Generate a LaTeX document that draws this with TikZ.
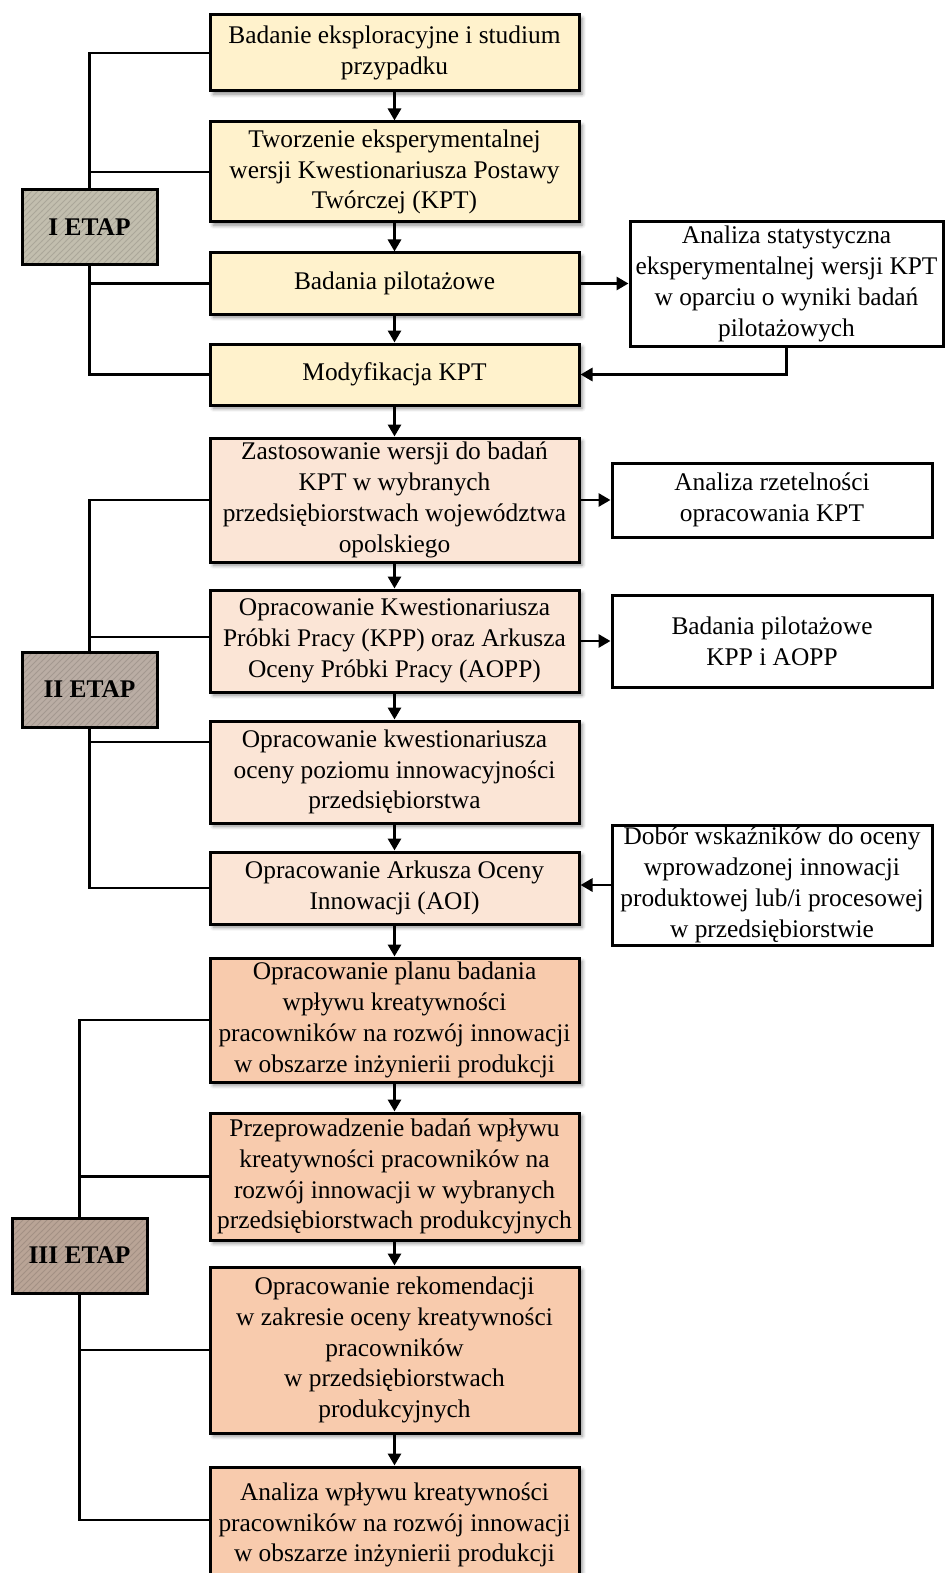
\documentclass[tikz,border=0pt]{standalone}
\usepackage{fontspec}
\setmainfont{Liberation Serif}
\usetikzlibrary{arrows.meta,patterns,shadows.blur}
\definecolor{stI}{HTML}{FFF2CC}
\definecolor{stII}{HTML}{FBE5D6}
\definecolor{stIII}{HTML}{F8CBAD}
\definecolor{etI}{HTML}{C2BEAE}
\definecolor{etII}{HTML}{BAADA4}
\definecolor{etIII}{HTML}{B9A496}
\begin{document}
\begin{tikzpicture}[x=0.5pt,y=-0.5pt,
  every node/.style={font=\fontsize{12.7}{15.4}\selectfont},
  mainbox/.style={draw=black, line width=1.5pt, rectangle, inner sep=0pt, align=center,
    minimum width=184.5pt, blur shadow={shadow xshift=1.6pt, shadow yshift=-1.6pt, shadow blur steps=4, shadow opacity=45}},
  sidebox/.style={draw=black, line width=1.5pt, rectangle, inner sep=0pt, align=center, fill=white},
  etapbox/.style={draw=black, line width=1.5pt, rectangle, inner sep=0pt, align=center,
    minimum width=67.5pt, minimum height=37.5pt, font=\fontsize{12.7}{15.4}\selectfont\bfseries,
    pattern=north east lines},
  conn/.style={line width=1.45pt},
  arr/.style={line width=1.45pt, -{Triangle[length=6pt,width=6.5pt]}}
]
\useasboundingbox (0,0) rectangle (944,1573);
% main column
\node[mainbox, fill=stI, minimum height=38pt] (B1) at (394.5,53) {Badanie eksploracyjne i studium\\przypadku};
\node[mainbox, fill=stI, minimum height=50pt] (B2) at (394.5,172) {Tworzenie eksperymentalnej\\wersji Kwestionariusza Postawy\\Twórczej (KPT)};
\node[mainbox, fill=stI, minimum height=30.5pt] (B3) at (394.5,283.5) {Badania pilotażowe};
\node[mainbox, fill=stI, minimum height=30.5pt] (B4) at (394.5,374.5) {Modyfikacja KPT};
\node[mainbox, fill=stII, minimum height=62pt] (B5) at (394.5,500) {Zastosowanie wersji do badań\\KPT w wybranych\\przedsiębiorstwach województwa\\opolskiego};
\node[mainbox, fill=stII, minimum height=51pt] (B6) at (394.5,641) {Opracowanie Kwestionariusza\\Próbki Pracy (KPP) oraz Arkusza\\Oceny Próbki Pracy (AOPP)};
\node[mainbox, fill=stII, minimum height=51pt] (B7) at (394.5,772) {Opracowanie kwestionariusza\\oceny poziomu innowacyjności\\przedsiębiorstwa};
\node[mainbox, fill=stII, minimum height=36pt] (B8) at (394.5,888) {Opracowanie Arkusza Oceny\\Innowacji (AOI)};
\node[mainbox, fill=stIII, minimum height=62pt] (B9) at (394.5,1020) {Opracowanie planu badania\\wpływu kreatywności\\pracowników na rozwój innowacji\\w obszarze inżynierii produkcji};
\node[mainbox, fill=stIII, minimum height=63.5pt] (B10) at (394.5,1176.5) {Przeprowadzenie badań wpływu\\kreatywności pracowników na\\rozwój innowacji w wybranych\\przedsiębiorstwach produkcyjnych};
\node[mainbox, fill=stIII, minimum height=83pt] (B11) at (394.5,1350) {Opracowanie rekomendacji\\w zakresie oceny kreatywności\\pracowników\\w przedsiębiorstwach\\produkcyjnych};
\node[mainbox, fill=stIII, minimum height=66pt] (B12) at (394.5,1533) {\raisebox{0pt}[\height][\dimexpr\depth+8pt\relax]{\begin{tabular}{@{}c@{}}Analiza wpływu kreatywności\\pracowników na rozwój innowacji\\w obszarze inżynierii produkcji\end{tabular}}};
% side boxes
\node[sidebox, minimum width=156.5pt, minimum height=62pt] (A) at (786.5,284) {Analiza statystyczna\\eksperymentalnej wersji KPT\\w oparciu o wyniki badań\\pilotażowych};
\node[sidebox, minimum width=160pt, minimum height=37pt] (B) at (772,500) {Analiza rzetelności\\opracowania KPT};
\node[sidebox, minimum width=160pt, minimum height=46pt] (C) at (772,641) {Badania pilotażowe\\KPP i AOPP};
\node[sidebox, minimum width=160pt, minimum height=60pt] (D) at (772,885) {Dobór wskaźników do oceny\\wprowadzonej innowacji\\produktowej lub/i procesowej\\w przedsiębiorstwie};
% etap boxes
\node[etapbox, preaction={fill=etI}, pattern color=etI!88!black] (E1) at (89.5,227.5) {I ETAP};
\node[etapbox, preaction={fill=etII}, pattern color=etII!88!black] (E2) at (89.5,689.5) {II ETAP};
\node[etapbox, preaction={fill=etIII}, pattern color=etIII!88!black] (E3) at (79.5,1255.5) {III ETAP};
% vertical arrows
\foreach \a/\b in {B1/B2,B2/B3,B3/B4,B4/B5,B5/B6,B6/B7,B7/B8,B8/B9,B9/B10,B10/B11,B11/B12}
  \draw[arr] (\a.south) -- (\b.north);
% side arrows
\draw[arr] (B3.east) -- (B3.east -| A.west);
\draw[arr] (A.south) |- (B4.east);
\draw[arr] (B5.east) -- (B5.east -| B.west);
\draw[arr] (B6.east) -- (B6.east -| C.west);
\draw[arr] (D.west) -- (D.west -| B8.east);
% stage brackets
\draw[conn] (B1.west) -| (E1.north);
\draw[conn] (B2.west) -| (E1.north);
\draw[conn] (B3.west) -| (E1.south);
\draw[conn] (B4.west) -| (E1.south);
\draw[conn] (B5.west) -| (E2.north);
\draw[conn] (B6.west |- 0,637) -| (E2.north);
\draw[conn] (B7.west |- 0,742) -| (E2.south);
\draw[conn] (B8.west) -| (E2.south);
\draw[conn] (B9.west) -| (E3.north);
\draw[conn] (B10.west) -| (E3.north);
\draw[conn] (B11.west) -| (E3.south);
\draw[conn] (B12.west |- 0,1520) -| (E3.south);
\end{tikzpicture}
\end{document}
